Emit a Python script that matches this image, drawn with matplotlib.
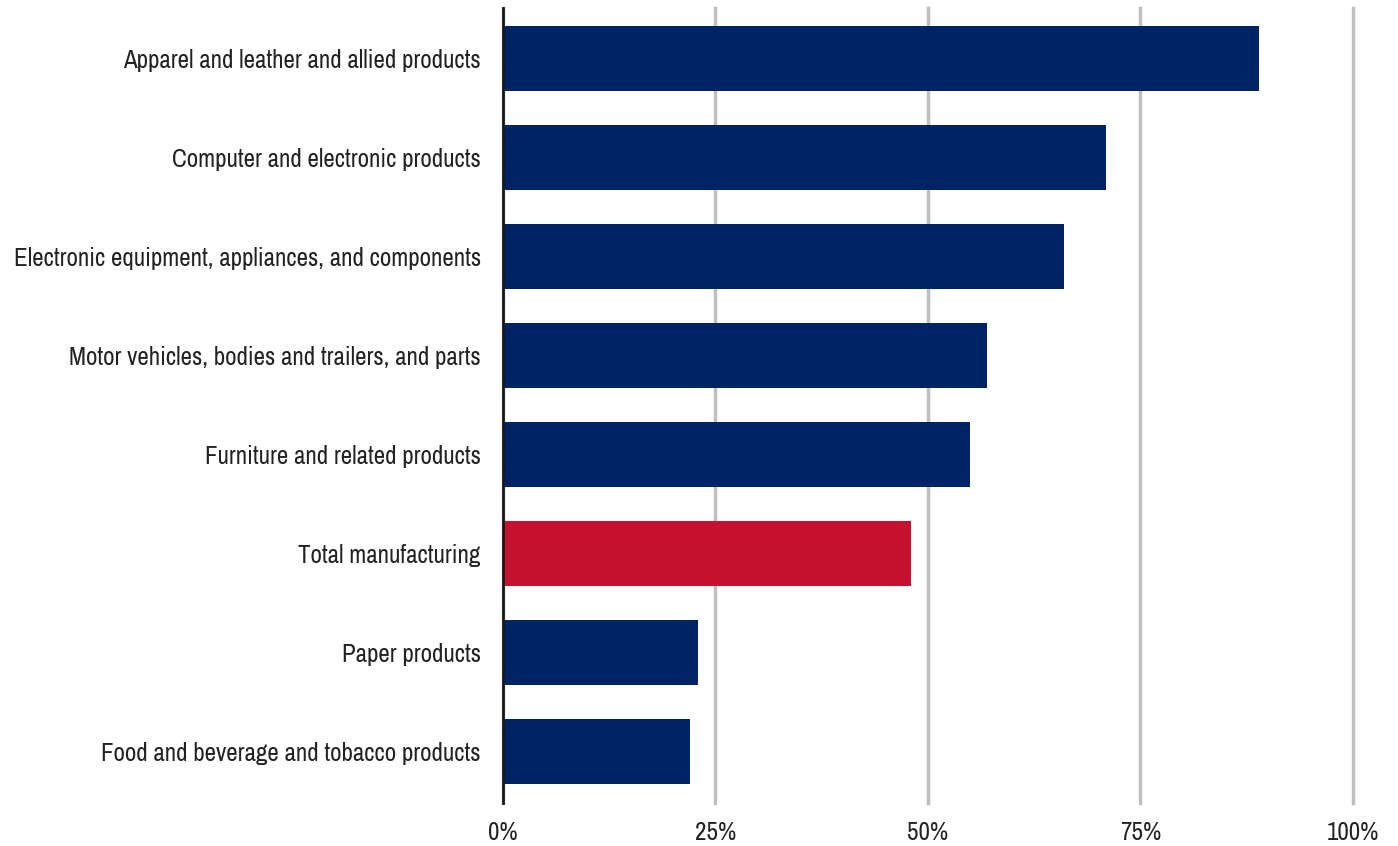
import matplotlib
matplotlib.use("Agg")
import matplotlib.pyplot as plt
from matplotlib.ticker import PercentFormatter
from matplotlib import font_manager

categories = [
    "Apparel and leather and allied products",
    "Computer and electronic products",
    "Electronic equipment, appliances, and components",
    "Motor vehicles, bodies and trailers, and parts",
    "Furniture and related products",
    "Total manufacturing",
    "Paper products",
    "Food and beverage and tobacco products",
]
shares = [89, 71, 66, 57, 55, 48, 23, 22]
highlight = "Total manufacturing"

NAVY = "#002366"
RED = "#C41230"

# prefer a narrow face if one happens to be installed
names = sorted({f.name for f in font_manager.fontManager.ttflist})
narrow = [n for n in names if "Condensed" in n or "Narrow" in n]
if narrow:
    family, label_size, tick_size = narrow[0], 18, 18
else:
    family, label_size, tick_size = "Roboto", 15, 16
plt.rcParams["font.family"] = [family, "DejaVu Sans"]

fig = plt.figure(figsize=(13.98, 8.46), dpi=100)
ax = fig.add_axes([0.3598, 0.0508, 0.608, 0.9397])

colors = [RED if c == highlight else NAVY for c in categories]
ax.barh(range(len(categories)), shares, height=0.65, color=colors, zorder=3)

ax.set_ylim(len(categories) - 0.48, -0.51)
ax.set_xlim(0, 100)
ax.set_xticks([0, 25, 50, 75, 100])
ax.xaxis.set_major_formatter(PercentFormatter(decimals=0))
ax.set_yticks(range(len(categories)))
ax.set_yticklabels(categories)

ax.grid(axis="x", color="#BFBFBF", linewidth=2.5, zorder=0)
for line in ax.get_xgridlines():
    line.set_clip_on(False)
for side in ["top", "right", "bottom"]:
    ax.spines[side].set_visible(False)
ax.spines["left"].set_linewidth(2)
ax.spines["left"].set_color("#1a1a1a")
ax.spines["left"].set_zorder(4)

ax.tick_params(axis="both", length=0, colors="#222222")
ax.tick_params(axis="x", labelsize=tick_size, pad=13)
ax.tick_params(axis="y", labelsize=label_size, pad=16)

fig.savefig("out.png", dpi=100)
